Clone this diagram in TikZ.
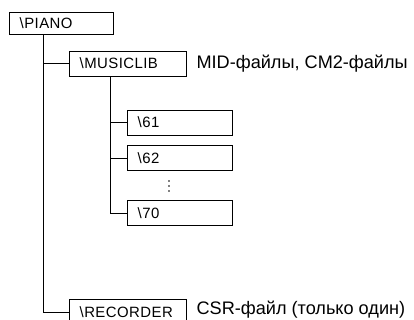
\documentclass[tikz,border=0pt]{standalone}
\usepackage{fontspec}
\setmainfont{Liberation Sans}
\usetikzlibrary{calc}

\begin{document}
\begin{tikzpicture}[x=0.75pt, y=-0.75pt, line width=0.6pt,
  every node/.style={font=\fontsize{11.2}{13}\selectfont\addfontfeature{LetterSpace=3}},
  dirbox/.style={draw, inner xsep=8pt, text width=#1, minimum height=18.75pt},
  note/.style={anchor=base west, font=\fontsize{13.6}{16}\selectfont}]
  \useasboundingbox (0,0) rectangle (414,320);
  \node[dirbox=62pt, minimum height=16.5pt] (piano) at (61,23) {\textbackslash PIANO};
  \node[dirbox=71.75pt] (musiclib) at (127.5,63.5) {\textbackslash MUSICLIB};
  \foreach \n/\y in {61/122.5, 62/158, 70/213}
    \node[dirbox=62.75pt] (d\n) at (179.5,\y) {\textbackslash\n};
  \foreach \y in {181,186,191} \fill (169,\y) circle (0.6pt);
  \node[dirbox=71.75pt] (recorder) at (127.5,312) {\textbackslash RECORDER};
  \node[note] (midtext) at ([xshift=4pt]musiclib.base east) {MID-файлы, CM2-файлы};
  \node[note] (csrtext) at ([xshift=4pt,yshift=2pt]recorder.base east) {CSR-файл (только один)};
  \draw ($(piano.south west)+(35,0)$) |- (musiclib.west);
  \draw ($(piano.south west)+(35,0)$) |- (recorder.west);
  \foreach \n in {61,62,70}
    \draw ($(musiclib.south west)+(42,0)$) |- (d\n.west);
\end{tikzpicture}
\end{document}
